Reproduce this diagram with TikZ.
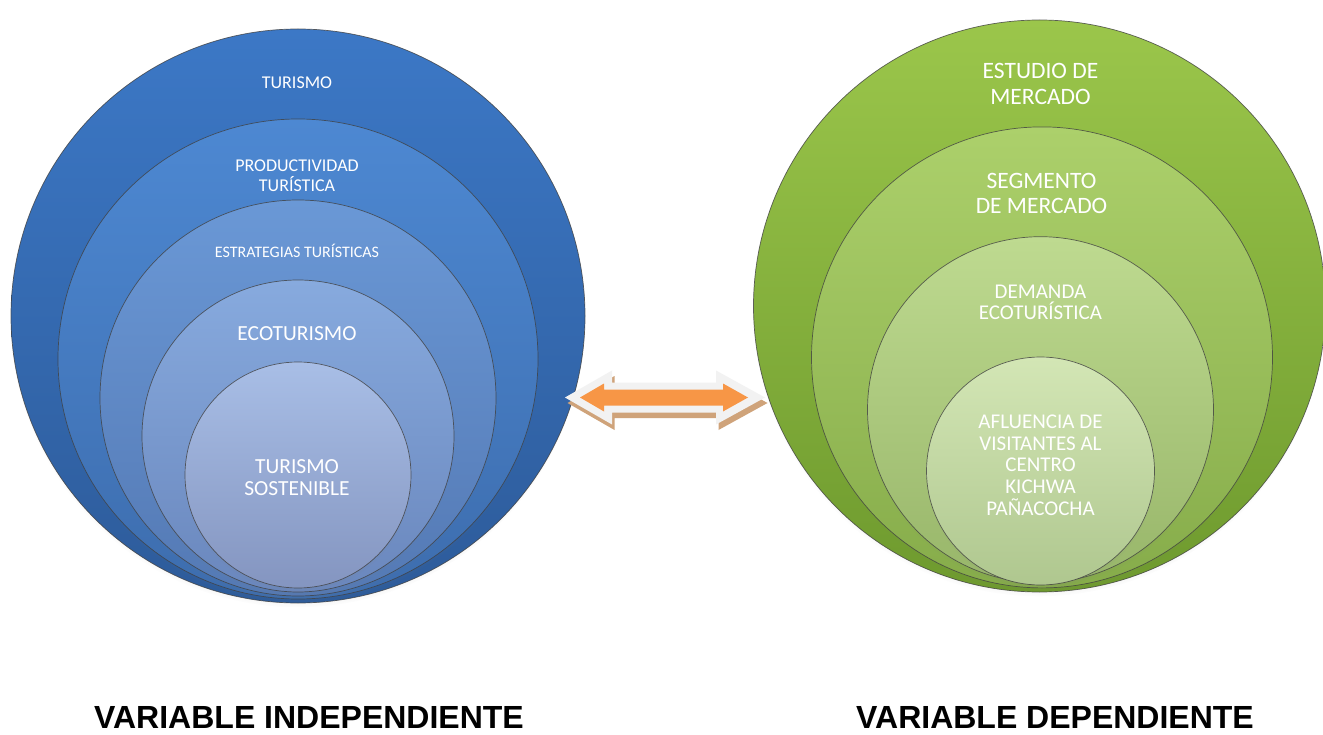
\documentclass[tikz,border=0pt]{standalone}
\usepackage{fontspec}
\usepackage{graphicx}
\setmainfont{Carlito}
\newfontfamily\labelfont{Liberation Sans}
\usetikzlibrary{shadows}
\definecolor{b1t}{HTML}{3C78C6}\definecolor{b1b}{HTML}{2D5B9A}
\definecolor{b2t}{HTML}{4D88D2}\definecolor{b2b}{HTML}{3D6DAE}
\definecolor{b3t}{HTML}{6A98D6}\definecolor{b3b}{HTML}{5479B4}
\definecolor{b4t}{HTML}{87AADE}\definecolor{b4b}{HTML}{6A87BD}
\definecolor{b5t}{HTML}{A8BEE6}\definecolor{b5b}{HTML}{8495C0}
\definecolor{g1t}{HTML}{9BC64B}\definecolor{g1b}{HTML}{6E9A2E}
\definecolor{g2t}{HTML}{ACD06B}\definecolor{g2b}{HTML}{86AC4A}
\definecolor{g3t}{HTML}{BEDA90}\definecolor{g3b}{HTML}{98B66A}
\definecolor{g4t}{HTML}{D3E6B5}\definecolor{g4b}{HTML}{AFC78F}
\definecolor{arrwhite}{HTML}{F2F2F2}
\definecolor{arrorange}{HTML}{F79646}
\definecolor{arrshadow}{HTML}{CFA37A}
\begin{document}
\begin{tikzpicture}[x=1pt,y=-1pt,
  ring/.style={circle, inner sep=0pt, minimum size=#1, draw=black!75, draw opacity=0.8, line width=0.7pt,
    circular drop shadow={shadow xshift=0pt, shadow yshift=-4pt, shadow scale=1.0, opacity=0.45}},
  lbl/.style={anchor=base, text=white, inner sep=0pt},
  vlabel/.style={anchor=base, inner sep=0pt, font=\labelfont\bfseries\fontsize{32}{36}\selectfont}]
\useasboundingbox (0,0) rectangle (1323,735);
\fill[white] (0,0) rectangle (1323,735);

% ---------- left: blue circles ----------
\node[ring=574pt, top color=b1t, bottom color=b1b] (c1) at (298,316) {};
\node[ring=480pt, top color=b2t, bottom color=b2b] (c2) at (298,359) {};
\node[ring=396pt, top color=b3t, bottom color=b3b] (c3) at (298,398) {};
\node[ring=312pt, top color=b4t, bottom color=b4b] (c4) at (298,436) {};
\node[ring=226pt, top color=b5t, bottom color=b5b] (c5) at (298,475) {};

\node[lbl, font=\fontsize{18}{20}\selectfont] (l1) at (297,89) {TURISMO};
\node[lbl, font=\fontsize{18}{20}\selectfont] (l2a) at (297,172) {PRODUCTIVIDAD};
\node[lbl, font=\fontsize{18}{20}\selectfont] (l2b) at (297,191.5) {TURÍSTICA};
\node[lbl, font=\fontsize{16}{18}\selectfont] (l3) at (297,258) {ESTRATEGIAS TURÍSTICAS};
\node[lbl, font=\fontsize{21.5}{23}\selectfont] (l4) at (297,340.7) {ECOTURISMO};
\node[lbl, font=\fontsize{21.5}{23}\selectfont] (l5a) at (297,473.5) {TURISMO};
\node[lbl, font=\fontsize{21.5}{23}\selectfont] (l5b) at (297,495.7) {SOSTENIBLE};

% ---------- right: green circles ----------
\node[ring=572pt, top color=g1t, bottom color=g1b] (g1) at (1039.5,306) {};
\node[ring=461pt, top color=g2t, bottom color=g2b] (g2) at (1042,357.4) {};
\node[ring=346pt, top color=g3t, bottom color=g3b] (g3) at (1040.5,409.7) {};
\node[ring=228pt, top color=g4t, bottom color=g4b] (g4) at (1040.5,471) {};

\node[lbl, font=\fontsize{23.5}{25}\selectfont] (r1a) at (1040.5,78.6) {ESTUDIO DE};
\node[lbl, font=\fontsize{23.5}{25}\selectfont] (r1b) at (1040.5,104.2) {MERCADO};
\node[lbl, font=\fontsize{23.5}{25}\selectfont] (r2a) at (1041.5,188.3) {SEGMENTO};
\node[lbl, font=\fontsize{23.5}{25}\selectfont] (r2b) at (1041.5,213.3) {DE MERCADO};
\node[lbl, font=\fontsize{21}{23}\selectfont] (r3a) at (1040.5,298.3) {DEMANDA};
\node[lbl, font=\fontsize{21}{23}\selectfont] (r3b) at (1040.5,320) {ECOTURÍSTICA};
\node[lbl, font=\fontsize{21}{23}\selectfont] (r4a) at (1040.5,428.3) {AFLUENCIA DE};
\node[lbl, font=\fontsize{21}{23}\selectfont] (r4b) at (1040.5,450) {VISITANTES AL};
\node[lbl, font=\fontsize{21}{23}\selectfont] (r4c) at (1040.5,471.7) {CENTRO};
\node[lbl, font=\fontsize{21}{23}\selectfont] (r4d) at (1040.5,493.3) {KICHWA};
\node[lbl, font=\fontsize{21}{23}\selectfont] (r4e) at (1040.5,515) {PAÑACOCHA};

% ---------- double arrow ----------
\coordinate (ac) at (665,397.5);
\begin{scope}[shift={(ac)}]
  \fill[arrshadow, shift={(2.5,5.5)}]
    (-100,0) -- (-53,-27) -- (-53,-15) -- (51,-15) -- (51,-27) -- (100,0)
    -- (51,27) -- (51,15) -- (-53,15) -- (-53,27) -- cycle;
  \fill[arrwhite]
    (-100,0) -- (-53,-27) -- (-53,-15) -- (51,-15) -- (51,-27) -- (100,0)
    -- (51,27) -- (51,15) -- (-53,15) -- (-53,27) -- cycle;
  \fill[arrorange]
    (-85,0) -- (-61,-14) -- (-61,-8) -- (58,-8) -- (58,-14) -- (83,0)
    -- (58,14) -- (58,8) -- (-61,8) -- (-61,14) -- cycle;
\end{scope}

% ---------- bottom labels ----------
\node[vlabel] (vi) at (309,728) {VARIABLE INDEPENDIENTE};
\node[vlabel] (vd) at (1055,728) {VARIABLE DEPENDIENTE};
\end{tikzpicture}
\end{document}
